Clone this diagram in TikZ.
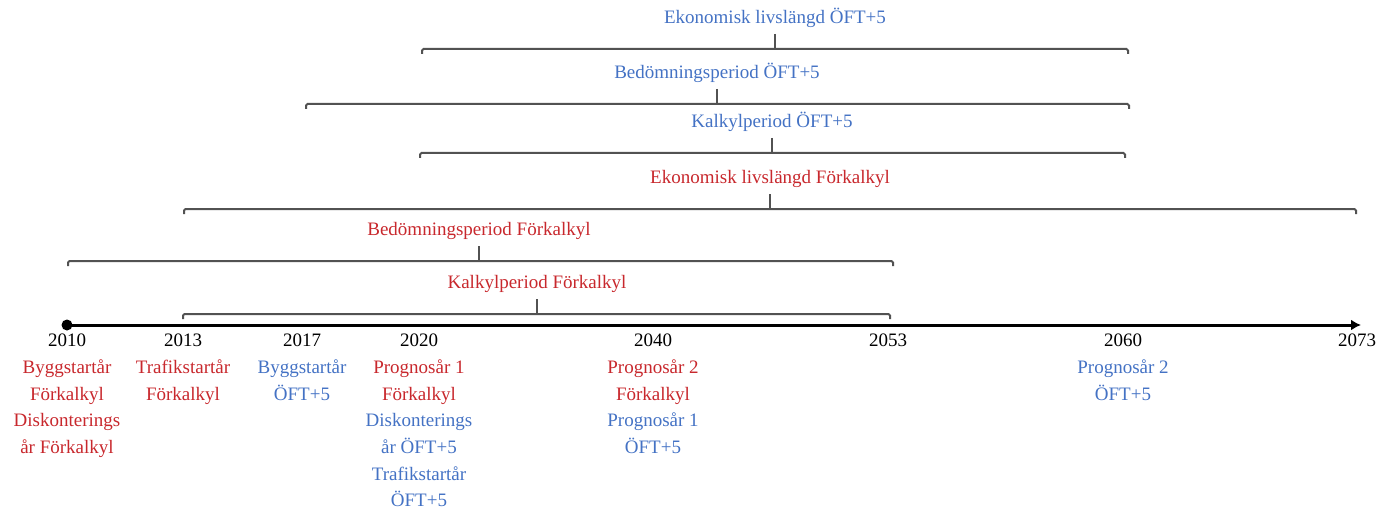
\documentclass[tikz,border=0pt]{standalone}
\usepackage{fontspec}
\setmainfont{Liberation Serif}
\usetikzlibrary{arrows.meta,positioning}
\definecolor{fkred}{RGB}{200,40,45}
\definecolor{oftblue}{RGB}{68,114,196}

\begin{document}
\begin{tikzpicture}[x=1pt, y=-1pt, >={Latex[length=10pt,width=11pt]},
    font=\fontsize{19}{26.7}\selectfont,
    bracket/.style={draw=black!68, line width=2pt, rounded corners=1.5pt},
    period/.style={inner sep=0pt, outer sep=6pt, anchor=south},
    year/.style={inner sep=0pt, anchor=base},
    desc/.style={inner sep=0pt, align=center, text=fkred}]
    \useasboundingbox (0,0) rectangle (1380,513);

    % Periods OFT+5
    \node[period, text=oftblue] (ekoOFT) at (775,34) {Ekonomisk livslängd ÖFT+5};
    \draw[bracket] (422,54) |- (1128,49) -- (1128,54);
    \draw[bracket] (ekoOFT) -- (ekoOFT |- 0,49);

    \node[period, text=oftblue] (bedOFT) at (717,89) {Bedömningsperiod ÖFT+5};
    \draw[bracket] (306,109) |- (1129,104) -- (1129,109);
    \draw[bracket] (bedOFT) -- (bedOFT |- 0,104);

    \node[period, text=oftblue] (kalOFT) at (772,138) {Kalkylperiod ÖFT+5};
    \draw[bracket] (420,158) |- (1125,153) -- (1125,158);
    \draw[bracket] (kalOFT) -- (kalOFT |- 0,153);

    % Periods Forkalkyl
    \node[period, text=fkred] (ekoFK) at (770,194) {Ekonomisk livslängd Förkalkyl};
    \draw[bracket] (184,214) |- (1356,209) -- (1356,214);
    \draw[bracket] (ekoFK) -- (ekoFK |- 0,209);

    \node[period, text=fkred] (bedFK) at (479,246) {Bedömningsperiod Förkalkyl};
    \draw[bracket] (68,266) |- (893,261) -- (893,266);
    \draw[bracket] (bedFK) -- (bedFK |- 0,261);

    \node[period, text=fkred] (kalFK) at (537,299) {Kalkylperiod Förkalkyl};
    \draw[bracket] (183,319) |- (890,314) -- (890,319);
    \draw[bracket] (kalFK) -- (kalFK |- 0,314);

    % Time axis
    \coordinate (t0) at (67,325);
    \coordinate (t1) at (1361,325);
    \draw[->, line width=3pt] (t0) -- (t1);
    \fill (t0) circle[radius=5.5pt];

    % Years
    \node[year] (y2010) at (67,346) {2010};
    \node[year] (y2013) at (183,346) {2013};
    \node[year] (y2017) at (302,346) {2017};
    \node[year] (y2020) at (419,346) {2020};
    \node[year] (y2040) at (653,346) {2040};
    \node[year] (y2053) at (888,346) {2053};
    \node[year] (y2060) at (1123,346) {2060};
    \node[year] (y2073) at (1357,346) {2073};

    % Events
    \node[desc, below=13.4pt of y2010.base] (d2010) {Byggstartår\\Förkalkyl\\Diskonterings\\år Förkalkyl};
    \node[desc, below=13.4pt of y2013.base] (d2013) {Trafikstartår\\Förkalkyl};
    \node[desc, text=oftblue, below=13.4pt of y2017.base] (d2017) {Byggstartår\\ÖFT+5};
    \node[desc, below=13.4pt of y2020.base] (d2020) {Prognosår 1\\Förkalkyl\\\textcolor{oftblue}{Diskonterings}\\\textcolor{oftblue}{år ÖFT+5}\\\textcolor{oftblue}{Trafikstartår}\\\textcolor{oftblue}{ÖFT+5}};
    \node[desc, below=13.4pt of y2040.base] (d2040) {Prognosår 2\\Förkalkyl\\\textcolor{oftblue}{Prognosår 1}\\\textcolor{oftblue}{ÖFT+5}};
    \node[desc, text=oftblue, below=13.4pt of y2060.base] (d2060) {Prognosår 2\\ÖFT+5};
\end{tikzpicture}
\end{document}
